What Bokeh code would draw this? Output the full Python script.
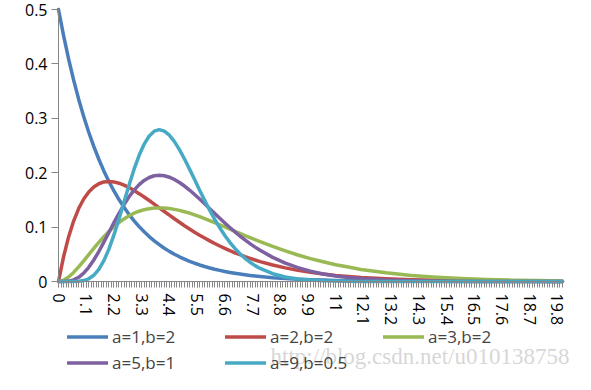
from bokeh.plotting import figure
from bokeh.models import FixedTicker, Legend, LegendItem, Label, Range1d
from bokeh.embed import file_html
from bokeh.resources import INLINE

# x values (category positions)
x = [0.0, 0.2, 0.4, 0.6, 0.8, 1.0, 1.2, 1.4, 1.6, 1.8, 2.0, 2.2, 2.4, 2.6, 2.8,
     3.0, 3.2, 3.4, 3.6, 3.8, 4.0, 4.2, 4.4, 4.6, 4.8, 5.0, 5.2, 5.4, 5.6, 5.8,
     6.0, 6.2, 6.4, 6.6, 6.8, 7.0, 7.2, 7.4, 7.6, 7.8, 8.0,
     8.5, 9.0, 9.5, 10.0, 10.5, 11.0, 11.5, 12.0,
     13.0, 14.0, 15.0, 16.0, 17.0, 18.0, 19.0, 20.0]

s_a1_b2 = [0.5, 0.4524, 0.4094, 0.3704, 0.3352, 0.3033, 0.2744, 0.2483, 0.2247, 0.2033,
           0.1839, 0.1664, 0.1506, 0.1363, 0.1233, 0.1116, 0.1009, 0.0913, 0.0826, 0.0748,
           0.0677, 0.0612, 0.0554, 0.0501, 0.0454, 0.0410, 0.0371, 0.0336, 0.0304, 0.0275,
           0.0249, 0.0225, 0.0204, 0.0184, 0.0167, 0.0151, 0.0137, 0.0124, 0.0112, 0.0101,
           0.0092,
           0.0071, 0.0056, 0.0043, 0.0034, 0.0026, 0.0020, 0.0016, 0.0012,
           0.0008, 0.0005, 0.0003, 0.0002, 0.0001, 0.0001, 0.0000, 0.0000]

s_a2_b2 = [0.0, 0.0452, 0.0819, 0.1111, 0.1341, 0.1516, 0.1646, 0.1738, 0.1797, 0.1830,
           0.1839, 0.1831, 0.1807, 0.1771, 0.1726, 0.1673, 0.1615, 0.1553, 0.1488, 0.1421,
           0.1353, 0.1286, 0.1219, 0.1153, 0.1089, 0.1026, 0.0966, 0.0907, 0.0851, 0.0798,
           0.0747, 0.0698, 0.0652, 0.0609, 0.0567, 0.0528, 0.0492, 0.0457, 0.0425, 0.0395,
           0.0366,
           0.0303, 0.0250, 0.0205, 0.0168, 0.0138, 0.0112, 0.0092, 0.0074,
           0.0049, 0.0032, 0.0021, 0.0013, 0.0009, 0.0006, 0.0004, 0.0002]

s_a3_b2 = [0.0, 0.0023, 0.0082, 0.0167, 0.0268, 0.0379, 0.0494, 0.0608, 0.0719, 0.0823,
           0.0920, 0.1007, 0.1084, 0.1151, 0.1208, 0.1255, 0.1292, 0.1320, 0.1339, 0.1350,
           0.1353, 0.1350, 0.1341, 0.1326, 0.1307, 0.1283, 0.1256, 0.1224, 0.1191, 0.1157,
           0.1121, 0.1082, 0.1043, 0.1005, 0.0964, 0.0924, 0.0886, 0.0845, 0.0808, 0.0770,
           0.0732,
           0.0644, 0.0563, 0.0487, 0.0420, 0.0362, 0.0308, 0.0265, 0.0222,
           0.0159, 0.0112, 0.0079, 0.0054, 0.0037, 0.0025, 0.0017, 0.0011]

s_a5_b1 = [0.0, 0.0001, 0.0007, 0.0030, 0.0077, 0.0153, 0.0260, 0.0395, 0.0551, 0.0723,
           0.0902, 0.1082, 0.1254, 0.1414, 0.1557, 0.1680, 0.1781, 0.1858, 0.1912, 0.1944,
           0.1954, 0.1944, 0.1917, 0.1875, 0.1820, 0.1755, 0.1681, 0.1600, 0.1515, 0.1428,
           0.1339, 0.1249, 0.1162, 0.1076, 0.0992, 0.0912, 0.0836, 0.0764, 0.0696, 0.0632,
           0.0573,
           0.0443, 0.0337, 0.0254, 0.0189, 0.0139, 0.0102, 0.0074, 0.0053,
           0.0027, 0.0013, 0.0006, 0.0003, 0.0001, 0.0001, 0.0000, 0.0000]

s_a9_b05 = [0.0, 0.0, 0.0, 0.0001, 0.0004, 0.0017, 0.0050, 0.0114, 0.0222, 0.0382,
            0.0595, 0.0856, 0.1150, 0.1463, 0.1774, 0.2065, 0.2320, 0.2526, 0.2675, 0.2763,
            0.2792, 0.2765, 0.2689, 0.2572, 0.2424, 0.2252, 0.2066, 0.1873, 0.1679, 0.1491,
            0.1311, 0.1142, 0.0987, 0.0846, 0.0720, 0.0609, 0.0511, 0.0427, 0.0354, 0.0292,
            0.0240,
            0.0143, 0.0083, 0.0047, 0.0026, 0.0014, 0.0008, 0.0004, 0.0002,
            0.0001, 0.0, 0.0, 0.0, 0.0, 0.0, 0.0, 0.0]

series_names = ["a=1,b=2", "a=2,b=2", "a=3,b=2", "a=5,b=1", "a=9,b=0.5"]
series_values = [s_a1_b2, s_a2_b2, s_a3_b2, s_a5_b1, s_a9_b05]
series_colors = ["#4A7EBB", "#BE4B48", "#98B954", "#7D60A0", "#46AAC5"]

x_tick_labels = ["0", "1.1", "2.2", "3.3", "4.4", "5.5", "6.6", "7.7", "8.8", "9.9",
                 "11", "12.1", "13.2", "14.3", "15.4", "16.5", "17.6", "18.7", "19.8"]
x_minor_ticks = [i / 10 for i in range(0, 201)]
y_tick_labels = ["0", "0.1", "0.2", "0.3", "0.4", "0.5"]

watermark = "http://blog.csdn.net/u010138758"

FONT = "Open Sans"
AXIS_COLOR = "#868686"

# layout in pixels (figure = 575 x 374); the frame fills the whole figure,
# axes are fixed at x=0 / y=0 so the space below can hold the legend.
W, H = 575, 374
X0_PX, X20_PX = 58, 562      # pixel of x=0 and x=20
Y0_PX, Y05_PX = 281, 9       # pixel of y=0 and y=0.5
xs = (X20_PX - X0_PX) / 20.0
ys = (Y0_PX - Y05_PX) / 0.5
x_rng = Range1d(-X0_PX / xs, 20 + (W - X20_PX) / xs)
y_rng = Range1d(-(H - Y0_PX) / ys, 0.5 + Y05_PX / ys)

p = figure(width=W, height=H, output_backend="svg", toolbar_location=None,
           title=None, x_range=x_rng, y_range=y_rng,
           min_border=0, min_border_left=0, min_border_right=0,
           min_border_top=0, min_border_bottom=0)
p.outline_line_color = None
p.xgrid.visible = False
p.ygrid.visible = False
p.background_fill_color = "white"

renderers = []
for vals, col in zip(series_values, series_colors):
    r = p.line(x, vals, line_color=col, line_width=3.5, line_join="round", line_cap="round")
    renderers.append(r)

xt = [float(t) for t in x_tick_labels]
p.xaxis.fixed_location = 0
p.xaxis.bounds = (0, 20)
p.xaxis.ticker = FixedTicker(ticks=xt, minor_ticks=x_minor_ticks)
p.xaxis.major_label_overrides = {float(t): t for t in x_tick_labels}
p.xaxis.major_label_orientation = "vertical"
p.xaxis.major_tick_out = 6
p.xaxis.major_tick_in = 0
p.xaxis.minor_tick_out = 6
p.xaxis.minor_tick_in = 0
p.xaxis.major_label_standoff = 6

yt = [float(t) for t in y_tick_labels]
p.yaxis.fixed_location = 0
p.yaxis.bounds = (0, 0.5)
p.yaxis.ticker = FixedTicker(ticks=yt, minor_ticks=[])
p.yaxis.major_label_overrides = {float(t): t for t in y_tick_labels}
p.yaxis.major_tick_out = 7
p.yaxis.major_tick_in = 0
p.yaxis.minor_tick_out = 0
p.yaxis.minor_tick_in = 0
p.yaxis.major_label_standoff = 4

for ax in (p.xaxis, p.yaxis):
    ax.axis_line_color = AXIS_COLOR
    ax.major_tick_line_color = AXIS_COLOR
    ax.minor_tick_line_color = AXIS_COLOR
    ax.major_label_text_font = FONT
    ax.major_label_text_font_size = "16px"
    ax.major_label_text_color = "#000000"

# the legend fills its grid column by column; order so it reads row by row
legend_order = [0, 3, 1, 4, 2]
items = [LegendItem(label=series_names[i], renderers=[renderers[i]]) for i in legend_order]
legend = Legend(items=items, location=(67, 0), ncols=3,
                glyph_width=41, glyph_height=17, label_width=110, label_height=17,
                label_standoff=4, spacing=3, padding=0, margin=0,
                border_line_color=None, background_fill_alpha=0,
                label_text_font=FONT, label_text_font_size="17px",
                label_text_baseline="middle")
p.add_layout(legend)

wm = Label(x=(270 - X0_PX) / xs, y=-(356 - Y0_PX) / ys, text=watermark,
           text_font="Liberation Serif", text_font_size="23px",
           text_color="#cfcfcf", text_alpha=0.85,
           text_baseline="middle", text_align="left")
p.add_layout(wm)

open("out.html", "w").write(file_html(p, INLINE))
